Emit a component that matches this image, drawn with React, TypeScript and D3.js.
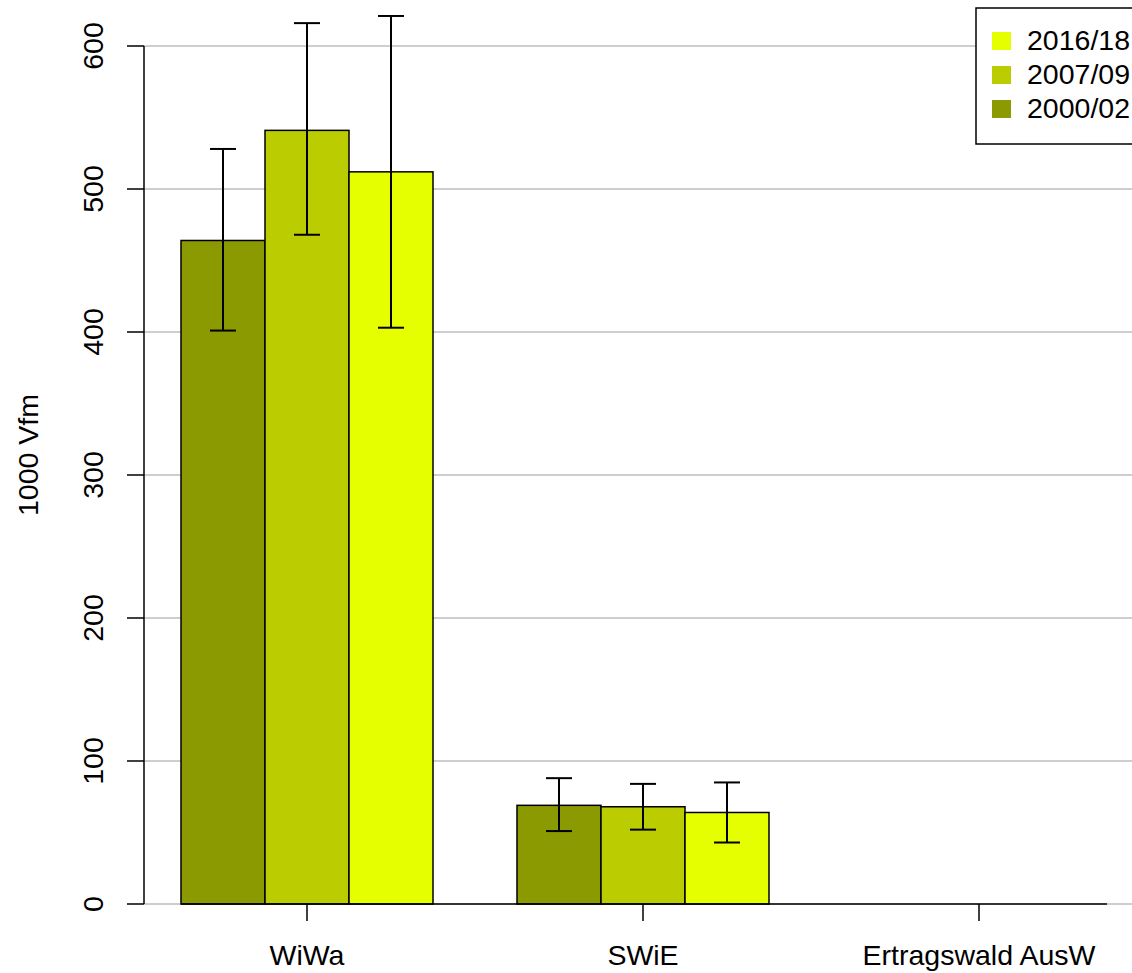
import React from "react";
import * as d3 from "d3";

const categories = ["WiWa", "SWiE", "Ertragswald AusW"];
const series = ["2000/02", "2007/09", "2016/18"];
const colors = ["#8B9A00", "#BBCC00", "#E5FF00"];
const values2000 = [464, 69, null];
const values2007 = [541, 68, null];
const values2016 = [512, 64, null];
const low2000 = [401, 51, null];
const high2000 = [528, 88, null];
const low2007 = [468, 52, null];
const high2007 = [616, 84, null];
const low2016 = [403, 43, null];
const high2016 = [621, 85, null];
const yTicks = [0, 100, 200, 300, 400, 500, 600];
const legendOrder = ["2016/18", "2007/09", "2000/02"];

const W = 1132;
const H = 973;
const FONT = "'Liberation Sans', Arial, sans-serif";
const FS = 28.5;

export default function App() {
  const y = d3.scaleLinear().domain([0, 600]).range([904, 46]);
  const slotW = 84;
  const slotX = d3.scaleLinear().domain([0, 1]).range([181, 181 + slotW]);
  const vals = [values2000, values2007, values2016];
  const lows = [low2000, low2007, low2016];
  const highs = [high2000, high2007, high2016];
  const groupCenter = (g: number) => slotX(g * 4 + 1.5);
  const axisStart = 144;
  const capHalf = 13;

  return (
    <svg width={W} height={H} style={{ display: "block", position: "absolute", left: 0, top: 0 }} fontFamily={FONT}>
      <rect width={W} height={H} fill="white" />
      {yTicks.map((t) => (
        <line key={"g" + t} x1={axisStart} x2={W} y1={y(t)} y2={y(t)} stroke="#BEBEBE" strokeWidth={1.5} />
      ))}
      {vals.map((arr, s) =>
        arr.map((v, g) =>
          v == null ? null : (
            <rect
              key={`b${s}-${g}`}
              x={slotX(g * 4 + s)}
              y={y(v)}
              width={slotW}
              height={y(0) - y(v)}
              fill={colors[s]}
              stroke="black"
              strokeWidth={1.5}
            />
          )
        )
      )}
      {vals.map((arr, s) =>
        arr.map((v, g) => {
          const lo = lows[s][g];
          const hi = highs[s][g];
          if (v == null || lo == null || hi == null) return null;
          const cx = slotX(g * 4 + s + 0.5);
          return (
            <g key={`e${s}-${g}`} stroke="black" strokeWidth={2}>
              <line x1={cx} x2={cx} y1={y(lo)} y2={y(hi)} />
              <line x1={cx - capHalf} x2={cx + capHalf} y1={y(lo)} y2={y(lo)} />
              <line x1={cx - capHalf} x2={cx + capHalf} y1={y(hi)} y2={y(hi)} />
            </g>
          );
        })
      )}
      <line x1={181} x2={1107} y1={y(0)} y2={y(0)} stroke="black" strokeWidth={1.5} />
      {categories.map((c, g) => (
        <g key={"x" + c}>
          <line x1={groupCenter(g)} x2={groupCenter(g)} y1={y(0)} y2={y(0) + 17} stroke="black" strokeWidth={1.5} />
          <text x={groupCenter(g)} y={965} textAnchor="middle" fontSize={FS} fill="black">
            {c}
          </text>
        </g>
      ))}
      <line x1={axisStart} x2={axisStart} y1={y(0)} y2={y(600)} stroke="black" strokeWidth={1.5} />
      {yTicks.map((t) => (
        <g key={"y" + t}>
          <line x1={axisStart - 17} x2={axisStart} y1={y(t)} y2={y(t)} stroke="black" strokeWidth={1.5} />
          <text
            transform={`translate(${103},${y(t)}) rotate(-90)`}
            textAnchor="middle"
            fontSize={FS}
            fill="black"
          >
            {t}
          </text>
        </g>
      ))}
      <text transform={`translate(38,${455}) rotate(-90)`} textAnchor="middle" fontSize={FS} fill="black">
        1000 Vfm
      </text>
      <rect x={976} y={8} width={170} height={136} fill="white" stroke="black" strokeWidth={1.5} />
      {legendOrder.map((lab, i) => {
        const si = series.indexOf(lab);
        const base = 50 + i * 34;
        return (
          <g key={"l" + lab}>
            <rect x={992} y={base - 18} width={19} height={18} fill={colors[si]} />
            <text x={1027} y={base} fontSize={FS} fill="black">
              {lab}
            </text>
          </g>
        );
      })}
    </svg>
  );
}
